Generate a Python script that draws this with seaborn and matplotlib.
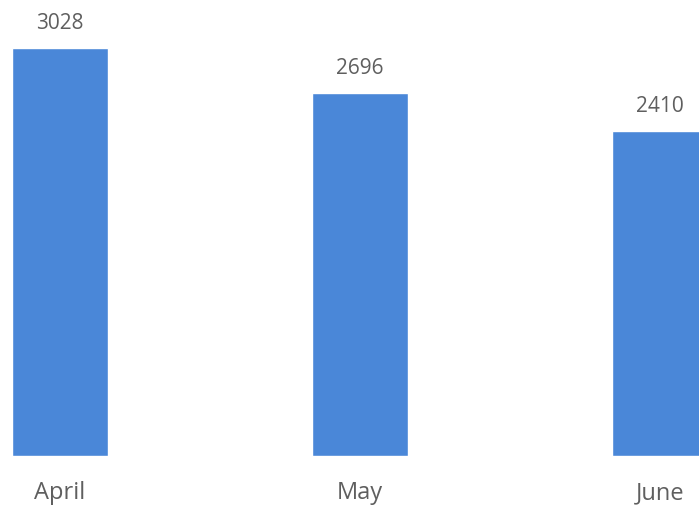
import matplotlib
matplotlib.use('Agg')
import matplotlib.pyplot as plt
import seaborn as sns
import pandas as pd

months = ['April', 'May', 'June']
counts = [3028, 2696, 2410]

df = pd.DataFrame({'month': months, 'count': counts})

sns.set_style('white')
plt.rcParams['font.family'] = ['Open Sans', 'DejaVu Sans']

fig = plt.figure(figsize=(6.99, 5.08), dpi=100)
ax = fig.add_axes([0, 52 / 508, 1, 456 / 508])

sns.barplot(data=df, x='month', y='count', color='#4A87D8', width=0.32,
            saturation=1, ax=ax)

for i, v in enumerate(counts):
    ax.text(i, v + 105, str(v), ha='center', va='bottom', fontsize=15, color='#5f5f5f')

ax.set_xlim(-0.2, 2.13)
ax.set_ylim(0, 3385)
ax.set_xlabel('')
ax.set_ylabel('')
ax.set_yticks([])
ax.tick_params(axis='x', length=0, pad=18, labelsize=17, labelcolor='#5f5f5f')
sns.despine(ax=ax, left=True, bottom=True)

fig.savefig('out.png', dpi=100)
